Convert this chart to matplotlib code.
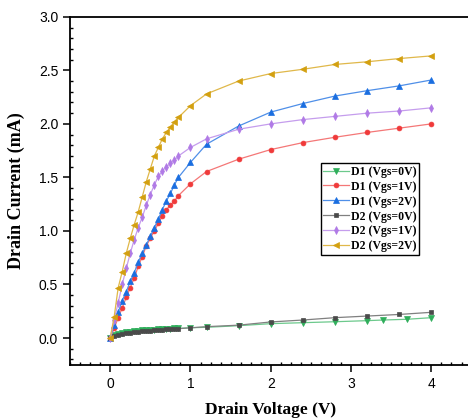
import matplotlib
matplotlib.use("Agg")
import matplotlib.pyplot as plt
from matplotlib.ticker import MultipleLocator

# drain voltage sweep (V)
vd = [0.0, 0.05, 0.10, 0.15, 0.20, 0.25, 0.30, 0.35, 0.40, 0.45, 0.50, 0.55,
      0.60, 0.65, 0.70, 0.75, 0.80, 0.85, 1.0, 1.2, 1.6, 2.0, 2.4, 2.8, 3.2,
      3.6, 4.0]
vd_d1_off = [0.0, 0.05, 0.10, 0.15, 0.20, 0.25, 0.30, 0.35, 0.40, 0.45, 0.50,
             0.55, 0.60, 0.65, 0.70, 0.75, 0.80, 0.85, 1.0, 1.2, 1.6, 2.0, 2.4,
             2.8, 3.2, 3.4, 3.7, 4.0]

# drain current (mA)
d1_vgs0 = [0.0, 0.025, 0.037, 0.046, 0.053, 0.058, 0.063, 0.067, 0.071, 0.074,
           0.076, 0.079, 0.081, 0.083, 0.085, 0.087, 0.089, 0.090, 0.096, 0.100,
           0.115, 0.134, 0.143, 0.152, 0.162, 0.168, 0.175, 0.190]
d1_vgs1 = [0.0, 0.09, 0.19, 0.28, 0.38, 0.47, 0.56, 0.67, 0.76, 0.86, 0.93,
           1.00, 1.07, 1.14, 1.20, 1.24, 1.28, 1.33, 1.44, 1.555, 1.67, 1.76,
           1.825, 1.875, 1.92, 1.96, 2.00]
d1_vgs2 = [0.0, 0.12, 0.24, 0.35, 0.43, 0.53, 0.61, 0.71, 0.79, 0.87, 0.95,
           1.03, 1.11, 1.20, 1.28, 1.35, 1.43, 1.50, 1.64, 1.81, 1.98, 2.11,
           2.19, 2.26, 2.31, 2.355, 2.41]
d2_vgs0 = [0.0, 0.020, 0.030, 0.040, 0.045, 0.050, 0.055, 0.060, 0.065, 0.068,
           0.070, 0.073, 0.076, 0.078, 0.080, 0.082, 0.085, 0.087, 0.095, 0.106,
           0.120, 0.150, 0.168, 0.190, 0.205, 0.220, 0.240]
d2_vgs1 = [0.0, 0.17, 0.33, 0.50, 0.65, 0.79, 0.92, 1.03, 1.13, 1.24, 1.34,
           1.43, 1.51, 1.56, 1.60, 1.63, 1.66, 1.70, 1.78, 1.86, 1.95, 2.00,
           2.04, 2.07, 2.10, 2.12, 2.15]
d2_vgs2 = [0.0, 0.20, 0.47, 0.62, 0.79, 0.93, 1.06, 1.18, 1.32, 1.46, 1.58,
           1.70, 1.78, 1.86, 1.92, 1.97, 2.02, 2.06, 2.17, 2.28, 2.40, 2.47,
           2.51, 2.555, 2.58, 2.61, 2.635]

series = [
    ("D1 (Vgs=0V)", vd_d1_off, d1_vgs0, "v", 4.0, "#2fae5b", "#6cc98c"),
    ("D1 (Vgs=1V)", vd, d1_vgs1, "o", 3.5, "#f03a3a", "#f47777"),
    ("D1 (Vgs=2V)", vd, d1_vgs2, "^", 4.5, "#1a6ee0", "#4f8fe8"),
    ("D2 (Vgs=0V)", vd, d2_vgs0, "s", 3.0, "#4a4a4a", "#808080"),
    ("D2 (Vgs=1V)", vd, d2_vgs1, "d", 4.2, "#b07ae6", "#c59ded"),
    ("D2 (Vgs=2V)", vd, d2_vgs2, "<", 4.5, "#d3a010", "#e0b84a"),
]

fig = plt.figure(figsize=(4.68, 4.2), dpi=100)
ax = fig.add_axes([0.1496, 0.1315, 0.858, 0.8285])

for label, x, y, mk, ms, c, lc in series:
    ax.plot(x, y, color=lc, lw=0.9, marker=mk, ms=ms, mfc=c, mec=c,
            mew=0.5, label=label)

ax.set_xlim(-0.5, 4.5)
ax.set_ylim(-0.25, 3.0)
ax.xaxis.set_major_locator(MultipleLocator(1))
ax.xaxis.set_minor_locator(MultipleLocator(0.125))
ax.yaxis.set_major_locator(MultipleLocator(0.5))
ax.yaxis.set_minor_locator(MultipleLocator(0.1))
ax.yaxis.set_major_formatter(matplotlib.ticker.FormatStrFormatter("%.1f"))

ax.tick_params(which="major", direction="out", length=5, width=1.1,
               labelsize=10)
ax.tick_params(which="minor", direction="in", length=2.5, width=1.0)
for lab in ax.get_xticklabels() + ax.get_yticklabels():
    lab.set_family("Liberation Sans")
for sp in ax.spines.values():
    sp.set_linewidth(1.3)

ax.set_xlabel("Drain Voltage (V)", family="Liberation Serif",
              fontweight="bold", fontsize=12.5, labelpad=8)
ax.set_ylabel("Drain Current (mA)", family="Liberation Serif",
              fontweight="bold", fontsize=13, labelpad=10)

leg = ax.legend(loc="upper left", bbox_to_anchor=(0.624, 0.579),
                borderaxespad=0, frameon=True, fancybox=False,
                edgecolor="black", framealpha=1,
                prop={"family": "Liberation Serif", "weight": "bold",
                      "size": 8.5},
                handlelength=2.2, handletextpad=0.15, labelspacing=0.25,
                borderpad=0.2)
leg.get_frame().set_linewidth(1.0)

fig.savefig("out.png", dpi=100)
